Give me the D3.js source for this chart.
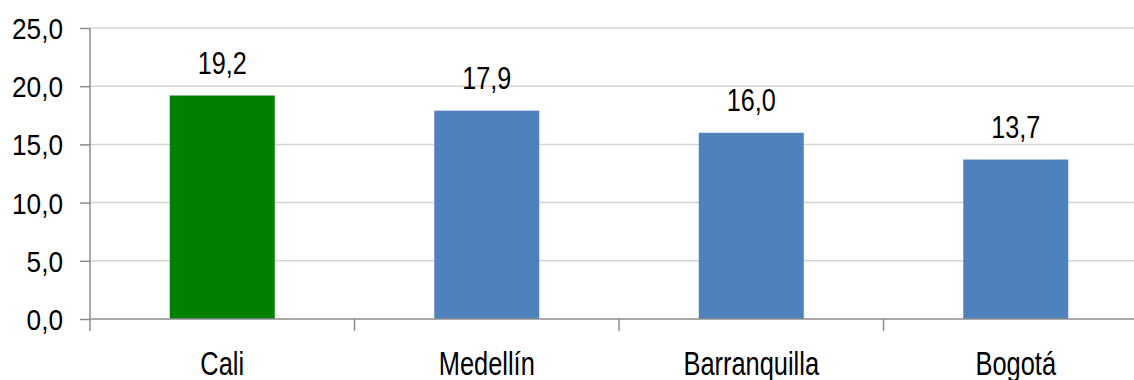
<!DOCTYPE html>
<html>
<head>
<meta charset="utf-8">
<script src="https://cdn.jsdelivr.net/npm/d3@7/dist/d3.min.js"></script>
<style>
  html, body { margin: 0; padding: 0; background: #fff; }
  svg { display: block; }
  text { font-family: "Liberation Sans", Arial, sans-serif; fill: #000; }
</style>
</head>
<body>
<svg id="chart" width="1134" height="380"></svg>
<script>
const categories = ["Cali", "Medellín", "Barranquilla", "Bogotá"];
const values = [19.2, 17.9, 16.0, 13.7];
const barColors = ["#008000", "#4F81BD", "#4F81BD", "#4F81BD"];
const yTicks = [0, 5, 10, 15, 20, 25];
const yTickLabels = ["0,0", "5,0", "10,0", "15,0", "20,0", "25,0"];

(function () {
const svg = d3.select("#chart");
const mLeft = 90, mRight = 1148, mTop = 28, mBottom = 319;

const x = d3.scaleBand().domain(categories).range([mLeft, mRight]).padding(0);
const y = d3.scaleLinear().domain([0, 25]).range([mBottom, mTop]);
const fmt = v => yTickLabels[yTicks.indexOf(v)];

// gridlines
svg.append("g")
  .selectAll("line.grid")
  .data(yTicks.filter(d => d > 0))
  .join("line")
  .attr("x1", mLeft).attr("x2", mRight)
  .attr("y1", d => y(d)).attr("y2", d => y(d))
  .attr("stroke", "#d4d4d4").attr("stroke-width", 1.5);

// bars
const bw = x.bandwidth() * 0.397;
svg.append("g")
  .selectAll("rect")
  .data(categories)
  .join("rect")
  .attr("x", d => x(d) + x.bandwidth() / 2 - bw / 2)
  .attr("width", bw)
  .attr("y", (d, i) => y(values[i]))
  .attr("height", (d, i) => y(0) - y(values[i]))
  .attr("fill", (d, i) => barColors[i]);

// y axis
const yAxis = svg.append("g")
  .attr("transform", `translate(${mLeft},0)`)
  .call(d3.axisLeft(y).tickValues(yTicks).tickSize(10).tickFormat(fmt));
yAxis.select(".domain").attr("d", `M0,${mTop}V${mBottom + 12}`).attr("stroke", "#8c8c8c").attr("stroke-width", 1.5);
yAxis.selectAll(".tick line").attr("stroke", "#8c8c8c").attr("stroke-width", 1.5);
yAxis.selectAll(".tick text")
  .attr("x", null).attr("dy", null)
  .attr("transform", `translate(-27,10.5) scale(0.97,1.12)`)
  .attr("text-anchor", "end")
  .style("font-size", "27px").style("fill", "#000");

// x axis
const xAxis = svg.append("g")
  .attr("transform", `translate(0,${mBottom})`)
  .call(d3.axisBottom(x).tickSize(0).tickFormat(d => d));
xAxis.select(".domain").attr("d", `M${mLeft},0H${mRight}`).attr("stroke", "#8c8c8c").attr("stroke-width", 1.5);
xAxis.selectAll(".tick text")
  .attr("y", null).attr("dy", null)
  .attr("transform", `translate(0,56) scale(0.82,1.1)`)
  .style("font-size", "31px").style("fill", "#000");

// category boundary ticks
svg.append("g")
  .selectAll("line.ct")
  .data(categories.slice(1).concat([null]))
  .join("line")
  .attr("x1", (d, i) => i < categories.length - 1 ? x(d) : mRight)
  .attr("x2", (d, i) => i < categories.length - 1 ? x(d) : mRight)
  .attr("y1", mBottom).attr("y2", mBottom + 12)
  .attr("stroke", "#8c8c8c").attr("stroke-width", 1.5);

// value labels
svg.append("g")
  .selectAll("text.val")
  .data(categories)
  .join("text")
  .attr("text-anchor", "middle")
  .attr("transform", (d, i) => `translate(${x(d) + x.bandwidth() / 2},${y(values[i]) - 22}) scale(0.9,1.15)`)
  .style("font-size", "28px")
  .text((d, i) => values[i].toFixed(1).replace(".", ","));
})();
</script>
</body>
</html>
